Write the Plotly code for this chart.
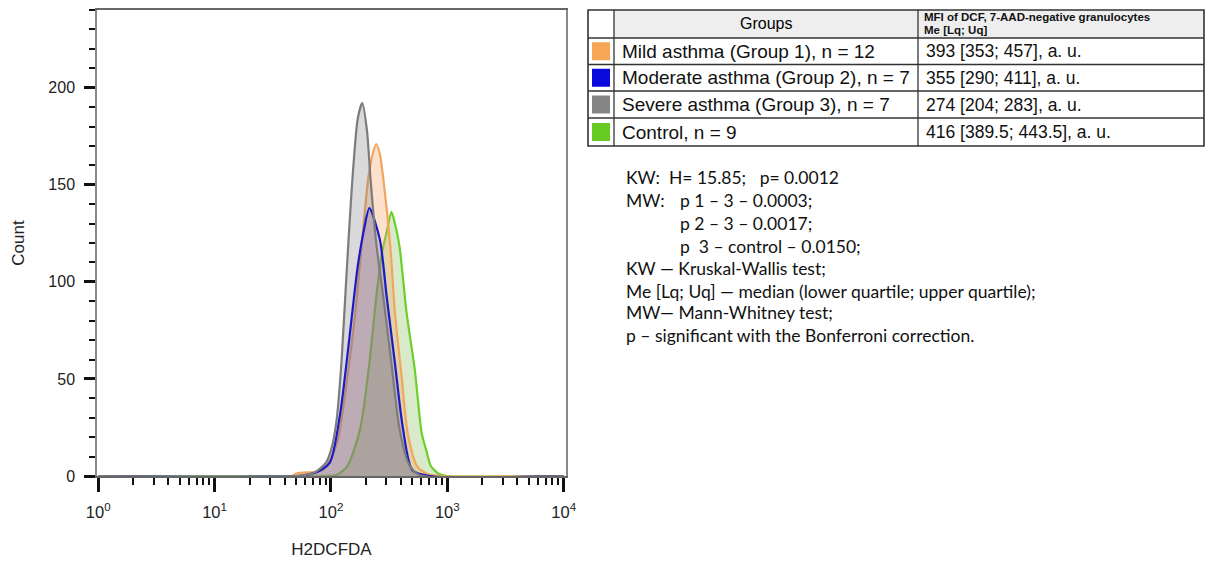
import plotly.graph_objects as go

# ---------------- data ----------------
# H2DCFDA intensity (a.u.) and event count for each overlaid histogram
severe_x = [1, 50, 71, 91, 102, 112, 123, 135, 151, 170, 186, 204, 219, 245, 282, 331, 389, 468, 575, 10000]
severe_y = [0, 0, 1.5, 7, 15, 29, 58, 100, 148, 184, 192, 178, 153, 120, 92, 58, 24, 6, 0.5, 0]

moderate_x = [1, 52, 66, 76, 98, 120, 141, 170, 191, 214, 263, 302, 355, 417, 501, 708, 10000]
moderate_y = [0, 0, 1, 2, 7, 32, 66, 108, 126, 138, 122, 92, 58, 24, 3, 0, 0]

mild_x = [1, 46, 52, 71, 85, 100, 115, 138, 162, 186, 209, 229, 245, 263, 282, 324, 355, 407, 457, 550, 676, 871, 10000]
mild_y = [0, 0, 1.5, 2, 3, 9, 19, 50, 84, 122, 153, 166, 171, 166, 153, 118, 84, 50, 22, 5, 1, 0, 0]

control_x = [1, 89, 112, 138, 178, 214, 245, 275, 302, 331, 355, 389, 447, 525, 603, 661, 724, 851, 1000, 10000]
control_y = [0, 0, 0.5, 5, 24, 58, 92, 115, 126, 136, 130, 118, 84, 55, 22, 13, 5, 1, 0, 0]

x_tick_vals = [1, 10, 100, 1000, 10000]
x_tick_text = ["10<sup>0</sup>", "10<sup>1</sup>", "10<sup>2</sup>", "10<sup>3</sup>", "10<sup>4</sup>"]
y_tick_vals = [0, 50, 100, 150, 200]

groups = ["Mild asthma (Group 1), n = 12", "Moderate asthma (Group 2), n = 7",
          "Severe asthma (Group 3), n = 7", "Control, n = 9"]
mfi_values = ["393 [353; 457], a. u.", "355 [290; 411], a. u.",
              "274 [204; 283], a. u.", "416 [389.5; 443.5], a. u."]
stats_lines = ["KW:  H= 15.85;   p= 0.0012", "MW:", "p 1 – 3 – 0.0003;", "p 2 – 3 – 0.0017;",
               "p  3 – control – 0.0150;", "KW — Kruskal-Wallis test;",
               "Me [Lq; Uq] — median (lower quartile; upper quartile);",
               "MW— Mann-Whitney test;", "p – significant with the Bonferroni correction."]

# ---------------- styles ----------------
line_colors = {"mild": "#F2A55E", "moderate": "#1A1AC8", "severe": "#7C7C7C", "control": "#6CD02A"}
fill_colors = {"mild": "rgba(245,160,90,0.30)", "moderate": "rgba(70,60,200,0.20)",
               "severe": "rgba(120,120,120,0.27)", "control": "rgba(100,170,40,0.25)"}
swatch_colors = ["#F7A655", "#0A0ADC", "#858585", "#66CC22"]

data = {"severe": (severe_x, severe_y), "mild": (mild_x, mild_y),
        "moderate": (moderate_x, moderate_y), "control": (control_x, control_y)}

fig = go.Figure()


def add_fill(key):
    xs, ys = data[key]
    fig.add_trace(go.Scatter(x=xs, y=ys, mode="lines", fill="tozeroy",
                             fillcolor=fill_colors[key],
                             line=dict(width=0, shape="spline", smoothing=0.7),
                             hoverinfo="skip", showlegend=False))


def add_line(key):
    xs, ys = data[key]
    fig.add_trace(go.Scatter(x=xs, y=ys, mode="lines",
                             line=dict(color=line_colors[key], width=2.2, shape="spline", smoothing=0.7),
                             name=key, showlegend=False))


# drawing order: green and orange outlines sit under the grey (severe) fill
add_fill("control")
add_line("control")
add_fill("mild")
add_line("mild")
add_fill("moderate")
add_fill("severe")
add_line("moderate")
add_line("severe")

# plot area in pixels
L, R, T, B = 97, 566, 10, 476
W, H = 1206, 566


def px(x):
    return (x - L) / (R - L)


def py(y):
    return (B - y) / (B - T)


axis_font = dict(family="Liberation Sans, Arial, sans-serif", size=16, color="#222")

fig.update_layout(
    width=W, height=H,
    margin=dict(l=L, r=W - R, t=T, b=H - B, autoexpand=False),
    paper_bgcolor="white", plot_bgcolor="white",
    font=axis_font,
    xaxis=dict(type="log", range=[-0.01, 4.02], tickvals=x_tick_vals, ticktext=x_tick_text,
               ticks="outside", ticklen=14, tickwidth=3, tickcolor="#111",
               minor=dict(ticks="outside", ticklen=7, tickwidth=2, tickcolor="#111", dtick="D1"),
               showgrid=False, zeroline=False, showline=True, linecolor="#666", linewidth=1.5,
               mirror=True, tickfont=dict(size=16.5), ticklabelstandoff=6,
               title=dict(text="H2DCFDA", font=dict(size=17), standoff=24)),
    yaxis=dict(range=[0, 240], tickvals=y_tick_vals, ticks="outside", ticklen=11, tickwidth=3,
               tickcolor="#111",
               minor=dict(ticks="outside", ticklen=6, tickwidth=2, tickcolor="#111", tick0=0, dtick=10),
               showgrid=False, zeroline=False, showline=True, linecolor="#888", linewidth=1.5,
               mirror=True, tickfont=dict(size=16), ticklabelstandoff=6,
               title=dict(text="Count", font=dict(size=17), standoff=19)),
)

# ---------------- table (shapes + text) ----------------
tab_l, tab_r, tab_t, tab_b = 588, 1204, 10, 146
col1, col2 = 614, 918
row_lines = [38, 64.5, 91, 118]
shapes = []
shapes.append(dict(type="rect", xref="paper", yref="paper", x0=px(col1), x1=px(tab_r),
                   y0=py(row_lines[0]), y1=py(tab_t), fillcolor="#eeeeee", line=dict(width=0)))
shapes.append(dict(type="rect", xref="paper", yref="paper", x0=px(tab_l), x1=px(tab_r),
                   y0=py(tab_b), y1=py(tab_t), line=dict(color="#333", width=1.6)))
for ry in row_lines:
    shapes.append(dict(type="line", xref="paper", yref="paper", x0=px(tab_l), x1=px(tab_r),
                       y0=py(ry), y1=py(ry), line=dict(color="#333", width=1.3)))
for cx in (col1, col2):
    shapes.append(dict(type="line", xref="paper", yref="paper", x0=px(cx), x1=px(cx),
                       y0=py(tab_b), y1=py(tab_t), line=dict(color="#333", width=1.3)))

row_tops = [row_lines[0], row_lines[1], row_lines[2], row_lines[3]]
row_bots = [row_lines[1], row_lines[2], row_lines[3], tab_b]
annotations = []
group_font = dict(family="Liberation Sans, Arial, sans-serif", size=19, color="#111")
value_font = dict(family="Liberation Sans, Arial, sans-serif", size=17.5, color="#111")
for i, (g, v) in enumerate(zip(groups, mfi_values)):
    t0, b0 = row_tops[i], row_bots[i]
    mid = (t0 + b0) / 2
    shapes.append(dict(type="rect", xref="paper", yref="paper", x0=px(592), x1=px(610),
                       y0=py(mid + 9), y1=py(mid - 9), fillcolor=swatch_colors[i],
                       line=dict(width=0)))
    annotations.append(dict(xref="paper", yref="paper", x=px(620), y=py(mid), text=g,
                            showarrow=False, xanchor="left", yanchor="middle", font=group_font))
    annotations.append(dict(xref="paper", yref="paper", x=px(924), y=py(mid), text=v,
                            showarrow=False, xanchor="left", yanchor="middle", font=value_font))

annotations.append(dict(xref="paper", yref="paper", x=px((col1 + col2) / 2), y=py(23), text="Groups",
                        showarrow=False, xanchor="center", yanchor="middle",
                        font=dict(family="Liberation Sans, Arial, sans-serif", size=16, color="#000")))
annotations.append(dict(xref="paper", yref="paper", x=px(922), y=py(17),
                        text="<b>MFI of DCF, 7-AAD-negative granulocytes</b>",
                        showarrow=False, xanchor="left", yanchor="middle",
                        font=dict(family="Liberation Sans, Arial, sans-serif", size=11.5, color="#111")))
annotations.append(dict(xref="paper", yref="paper", x=px(922), y=py(30), text="<b>Me [Lq; Uq]</b>",
                        showarrow=False, xanchor="left", yanchor="middle",
                        font=dict(family="Liberation Sans, Arial, sans-serif", size=11.5, color="#111")))

# ---------------- statistics notes ----------------
stats_font = dict(family="Lato, Open Sans, sans-serif", size=17.5, color="#111")
stats_pos = [(624, 177), (624, 200), (678, 200), (678, 223), (678, 246),
             (624, 268), (624, 291), (624, 313), (624, 336)]
for text, (sx, sy) in zip(stats_lines, stats_pos):
    annotations.append(dict(xref="paper", yref="paper", x=px(sx), y=py(sy), text=text,
                            showarrow=False, xanchor="left", yanchor="middle", font=stats_font))

fig.update_layout(shapes=shapes, annotations=annotations)
fig.write_html("out.html")
